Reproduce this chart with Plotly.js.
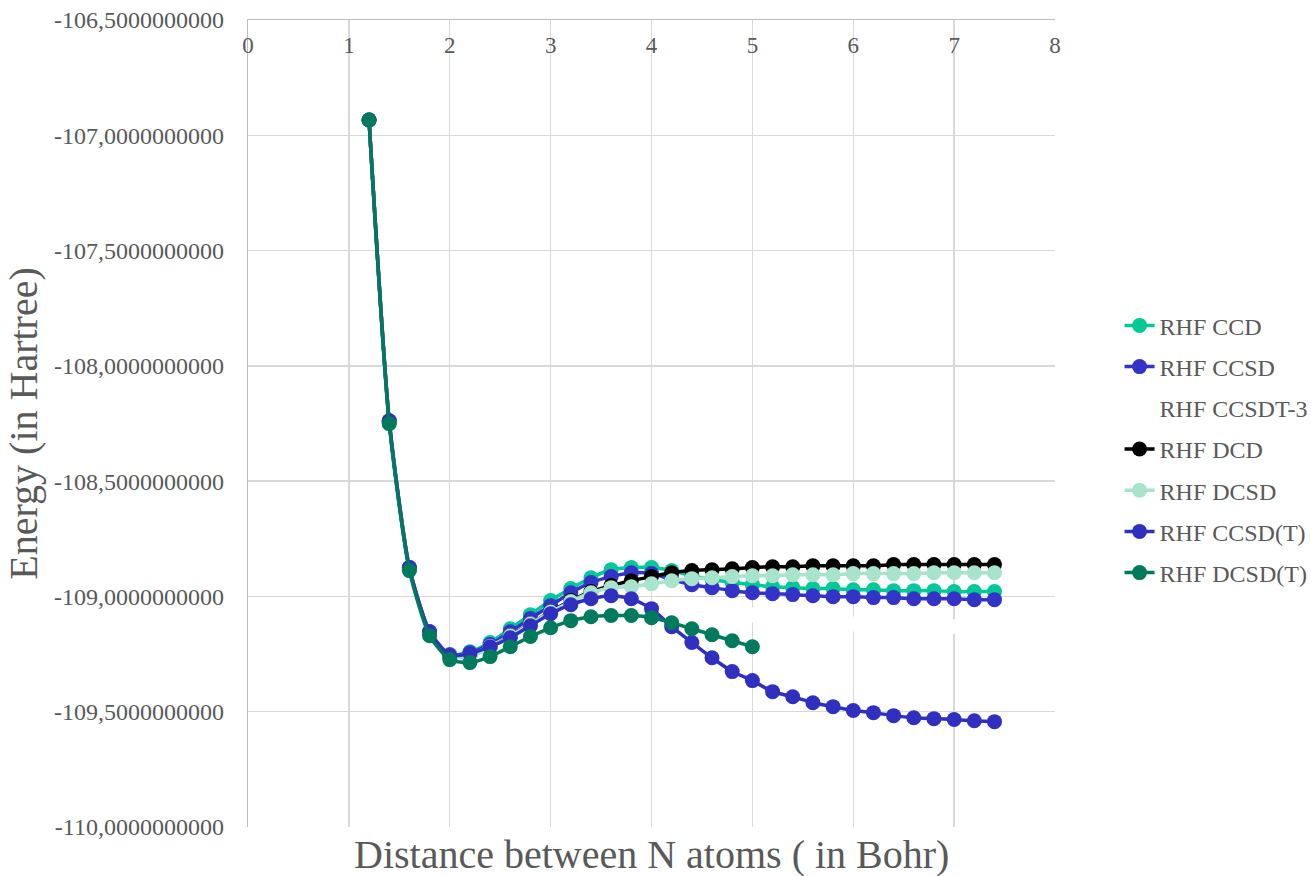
<!DOCTYPE html>
<html>
<head>
<meta charset="utf-8">
<script src="https://cdn.plot.ly/plotly-3.0.1.min.js"></script>
<style>html,body{margin:0;padding:0;background:#fff;}#chart{width:1311px;height:876px;}</style>
</head>
<body>
<div id="chart"></div>
<script>
// Distance between N atoms (Bohr)
const distance = [1.2,1.4,1.6,1.8,2.0,2.2,2.4,2.6,2.8,3.0,3.2,3.4,3.6,3.8,4.0,4.2,4.4,4.6,4.8,5.0,5.2,5.4,5.6,5.8,6.0,6.2,6.4,6.6,6.8,7.0,7.2,7.4];
const distanceDcsdT = [1.2,1.4,1.6,1.8,2.0,2.2,2.4,2.6,2.8,3.0,3.2,3.4,3.6,3.8,4.0,4.2,4.4,4.6,4.8,5.0];

// Energies (Hartree)
const rhfCCD = [-106.934,-108.243,-108.880,-109.153,-109.253,-109.240,-109.200,-109.140,-109.079,-109.018,-108.966,-108.919,-108.884,-108.875,-108.875,-108.888,-108.910,-108.927,-108.940,-108.949,-108.958,-108.962,-108.966,-108.966,-108.971,-108.971,-108.975,-108.975,-108.975,-108.979,-108.979,-108.979];
const rhfCCSD = [-106.934,-108.238,-108.875,-109.153,-109.253,-109.244,-109.209,-109.153,-109.096,-109.040,-108.984,-108.940,-108.914,-108.897,-108.901,-108.927,-108.949,-108.962,-108.975,-108.984,-108.988,-108.992,-108.997,-109.001,-109.001,-109.005,-109.005,-109.010,-109.010,-109.010,-109.014,-109.014];
const rhfCCSDT3 = [-106.934,-108.240,-108.878,-109.155,-109.256,-109.250,-109.217,-109.170,-109.118,-109.068,-109.030,-109.008,-109.000,-109.020,-109.050,-109.060,-109.068,-109.074,-109.078,-109.080,-109.090,-109.100,-109.108,-109.115,-109.120,-109.123,-109.126,-109.128,-109.130,-109.131,-109.132,-109.133];
const rhfDCD = [-106.934,-108.243,-108.880,-109.157,-109.261,-109.257,-109.222,-109.170,-109.118,-109.066,-109.018,-108.979,-108.953,-108.932,-108.914,-108.897,-108.888,-108.884,-108.880,-108.875,-108.871,-108.871,-108.867,-108.867,-108.867,-108.867,-108.862,-108.862,-108.862,-108.862,-108.862,-108.862];
const rhfDCSD = [-106.934,-108.243,-108.880,-109.157,-109.262,-109.258,-109.224,-109.172,-109.120,-109.068,-109.022,-108.984,-108.962,-108.958,-108.945,-108.932,-108.923,-108.919,-108.914,-108.910,-108.910,-108.906,-108.906,-108.906,-108.901,-108.901,-108.901,-108.901,-108.897,-108.897,-108.897,-108.897];
const rhfCCSDpT = [-106.934,-108.238,-108.875,-109.153,-109.255,-109.248,-109.218,-109.179,-109.127,-109.075,-109.036,-109.010,-108.997,-109.010,-109.053,-109.131,-109.200,-109.266,-109.326,-109.365,-109.413,-109.435,-109.461,-109.478,-109.495,-109.504,-109.517,-109.526,-109.530,-109.534,-109.539,-109.543];
const rhfDCSDpT = [-106.934,-108.251,-108.888,-109.170,-109.274,-109.287,-109.261,-109.218,-109.174,-109.136,-109.105,-109.088,-109.083,-109.083,-109.092,-109.114,-109.140,-109.166,-109.192,-109.218];

// Axis tick labels
const yTickVals = [-110,-109.5,-109,-108.5,-108,-107.5,-107,-106.5];
const yTickText = ['-110,0000000000','-109,5000000000','-109,0000000000','-108,5000000000','-108,0000000000','-107,5000000000','-107,0000000000','-106,5000000000'];

const FONT = 'Liberation Serif, Times New Roman, serif';
const GREY = '#595959';

function series(name, x, y, color, group) {
  return {
    type: 'scatter', mode: 'lines+markers', name: name, x: x, y: y,
    line: {color: color, width: 3.5, shape: 'spline', smoothing: 0.6},
    marker: {color: color, size: 15},
    legendgroup: group
  };
}

const traces = [
  series('RHF CCD', distance, rhfCCD, '#00C896', 'g1'),
  series('RHF CCSD', distance, rhfCCSD, '#3333C8', 'g2'),
  series('RHF CCSDT-3', distance, rhfCCSDT3, '#FFFFFF', 'g3'),
  series('RHF DCD', distance, rhfDCD, '#000000', 'g4'),
  series('RHF DCSD', distance, rhfDCSD, '#A8E3CC', 'g5'),
  series('RHF CCSD(T)', distance, rhfCCSDpT, '#3030C0', 'g6'),
  series('RHF DCSD(T)', distanceDcsdT, rhfDCSDpT, '#007A5C', 'g7')
];

const layout = {
  width: 1311, height: 876,
  margin: {l: 248, r: 256, t: 20, b: 49, autoexpand: false},
  paper_bgcolor: '#ffffff', plot_bgcolor: '#ffffff',
  font: {family: FONT, color: GREY},
  showlegend: true,
  legend: {
    x: 1.080, xanchor: 'left', y: 0.468, yanchor: 'middle',
    font: {family: FONT, size: 24, color: GREY},
    traceorder: 'grouped', tracegroupgap: 7,
    bgcolor: 'rgba(0,0,0,0)'
  },
  xaxis: {
    range: [0, 8], side: 'top', tick0: 0, dtick: 1,
    showgrid: true, gridcolor: '#d9d9d9', gridwidth: 1.3,
    showline: true, linecolor: '#bfbfbf', linewidth: 1.3,
    zeroline: false, ticks: '',
    ticklabelposition: 'inside', ticklabeloverflow: 'allow', ticklabelstandoff: 19,
    tickfont: {family: FONT, size: 23, color: GREY}
  },
  yaxis: {
    range: [-110, -106.5], tickmode: 'array', tickvals: yTickVals, ticktext: yTickText,
    showgrid: true, gridcolor: '#d9d9d9', gridwidth: 1.3,
    showline: true, linecolor: '#bfbfbf', linewidth: 1.3,
    zeroline: false, ticks: '', ticklabelstandoff: 18,
    tickfont: {family: FONT, size: 24, color: GREY},
    title: {text: 'Energy (in Hartree)', font: {family: FONT, size: 40, color: GREY}, standoff: 4}
  },
  annotations: [{
    text: 'Distance between N atoms ( in Bohr)', xref: 'paper', yref: 'paper',
    x: 0.5, y: -0.064, xanchor: 'center', yanchor: 'bottom', showarrow: false,
    font: {family: FONT, size: 40, color: GREY}
  }]
};

Plotly.newPlot('chart', traces, layout, {displayModeBar: false, staticPlot: true});
</script>
</body>
</html>
